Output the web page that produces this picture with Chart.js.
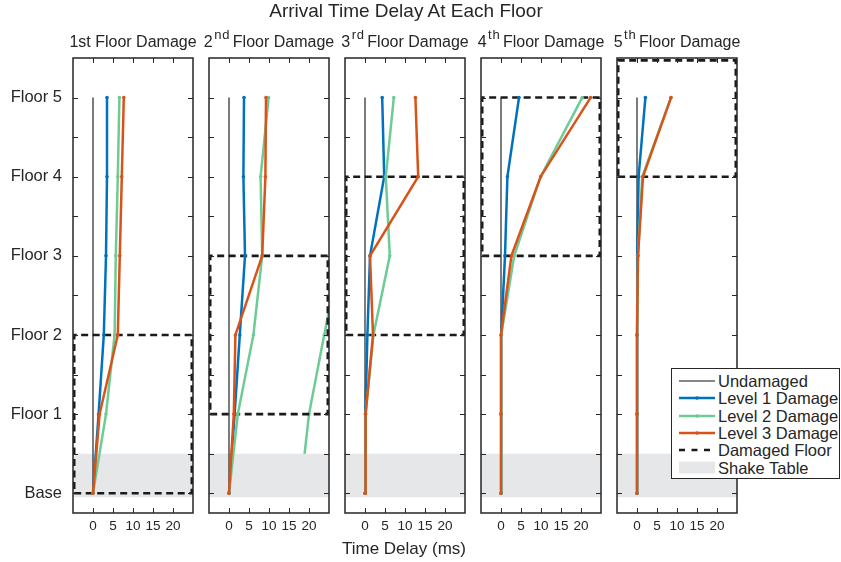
<!DOCTYPE html>
<html>
<head>
<meta charset="utf-8">
<script src="https://cdn.jsdelivr.net/npm/chart.js@4.4.1/dist/chart.umd.min.js"></script>
<style>
  html, body { margin: 0; padding: 0; background: #fff; }
  #fig { position: relative; width: 841px; height: 562px; overflow: hidden;
         font-family: "Liberation Sans", Arial, Helvetica, sans-serif; color: #262626; }
  #fig canvas { position: absolute; top: 0; }
  .txt { position: absolute; white-space: nowrap; line-height: 1; }
  .ptitle { position: absolute; width: 220px; text-align: center; white-space: nowrap;
            line-height: 1; font-size: 16px; top: 34px; }
  .ptitle .sup { font-size: 13px; letter-spacing: 0.8px; position: relative; top: -8.5px;
                 margin-left: 1.5px; margin-right: 2.5px; }
  #legend { position: absolute; left: 671px; top: 368px; width: 169px; height: 111px;
            border: 1px solid #262626; background: #fff; box-sizing: border-box; }
  #legend .row { position: absolute; left: 0; height: 16px; }
  #legend svg { position: absolute; left: 7px; top: 0; }
  #legend span { position: absolute; left: 46px; top: 0; font-size: 16.5px; line-height: 1; white-space: nowrap; }
</style>
</head>
<body>
<div id="fig"></div>
<script>
// ---- floors and ticks ----
const floorValues = [0, 1, 2, 3, 4, 5];
const floorLabels = ['Base', 'Floor 1', 'Floor 2', 'Floor 3', 'Floor 4', 'Floor 5'];
const xTickValues = [0, 5, 10, 15, 20];
const yTickValues = [0, 0.5, 1, 1.5, 2, 2.5, 3, 3.5, 4, 4.5, 5];

// ---- panel titles ----
const panelNumbers = ['1', '2', '3', '4', '5'];
const panelSuffixes = ['st', 'nd', 'rd', 'th', 'th'];
const suffixRaised = [false, true, true, true, true];

// ---- arrival time delay (ms) at Base, Floor 1 ... Floor 5, one row per damaged floor ----
const undamaged = [0, 0, 0, 0, 0, 0];
const level1 = [
  [0, 1.4, 2.7, 3.25, 3.5, 3.5],
  [0, 1.4, 2.7, 4.0, 3.6, 3.75],
  [0, 0.1, 0.6, 1.25, 4.8, 4.3],
  [0, 0, 0.1, 1.0, 1.6, 4.5],
  [0, 0, 0, 0.15, 0.4, 2.1]
];
const level2 = [
  [0, 3.25, 5.4, 5.7, 6.2, 6.6],
  [0, 2.2, 6.1, 8.3, 7.9, 9.9],
  [0, 0.15, 2.1, 6.2, 5.2, 7.2],
  [0, 0, 0.1, 3.3, 9.9, 20.3],
  [0, 0, 0, 0.25, 1.3, 8.5]
];
const level3 = [
  [0, 1.65, 6.2, 6.7, 7.2, 7.7],
  [0, 1.2, 1.6, 8.3, 9.1, 9.25],
  [0, 0.15, 2.0, 1.25, 13.3, 12.6],
  [0, 0, 0, 2.6, 9.9, 22.4],
  [0, 0, 0, 0.25, 1.5, 8.5]
];
// second Level 2 trace on the 2nd-floor test (Base, Floor 1, Floor 2, Floor 3)
const level2SecondTrace2nd = [17.8, 20.0, 23.8, 27.7];

// ---- damaged floor band (lower / upper floor) and shake table extent ----
const damagedLower = [0, 1, 2, 3, 4];
const damagedUpper = [2, 3, 4, 5, 6];
const shakeTableRange = [-0.05, 0.5];

// ---- axis ranges ----
const X_MIN = -5, X_MAX = 25;
const Y_MIN = -0.25, Y_MAX = 5.5;

// ---- layout ----
const PLOT_TOP = 58, PLOT_BOTTOM = 513, PLOT_W = 120, FIG_H = 562;
const panelLeft = [73, 209, 345, 481, 617];
const TICK_LEN = 5;

const COLORS = {
  undamaged: '#111111',
  level1: '#0072BD',
  level2: '#6ECB95',
  level3: '#D95319',
  damaged: '#1a1a1a',
  shake: '#e6e7e8',
  axis: '#262626'
};
const FONT = '"Liberation Sans", Arial, Helvetica, sans-serif';

const fig = document.getElementById('fig');

function addText(text, left, top, size, center) {
  const d = document.createElement('div');
  d.className = 'txt';
  d.textContent = text;
  d.style.fontSize = size + 'px';
  d.style.top = top + 'px';
  if (center) {
    d.style.left = (left - 200) + 'px';
    d.style.width = '400px';
    d.style.textAlign = 'center';
  } else {
    d.style.left = left + 'px';
  }
  fig.appendChild(d);
}

// box and inward tick marks, drawn on top of the data
const framePlugin = {
  id: 'frame',
  afterDraw(chart) {
    const { ctx, chartArea: a } = chart;
    const xs = chart.scales.x, ys = chart.scales.y;
    ctx.save();
    ctx.strokeStyle = COLORS.axis;
    ctx.lineWidth = 1;
    ctx.beginPath();
    xTickValues.forEach(v => {
      const px = Math.round(xs.getPixelForValue(v)) + 0.5;
      ctx.moveTo(px, a.bottom); ctx.lineTo(px, a.bottom - TICK_LEN);
      ctx.moveTo(px, a.top); ctx.lineTo(px, a.top + TICK_LEN);
    });
    yTickValues.forEach(v => {
      const py = Math.round(ys.getPixelForValue(v)) + 0.5;
      ctx.moveTo(a.left, py); ctx.lineTo(a.left + TICK_LEN, py);
      ctx.moveTo(a.right, py); ctx.lineTo(a.right - TICK_LEN, py);
    });
    ctx.stroke();
    ctx.lineWidth = 1.5;
    ctx.strokeRect(a.left, a.top, a.right - a.left, a.bottom - a.top);
    ctx.restore();
  }
};

function toPoints(values) {
  return values.map((v, k) => ({ x: v, y: floorValues[k] }));
}

function seriesDataset(label, values, color, width, order) {
  return {
    label, data: toPoints(values), showLine: true,
    borderColor: color, backgroundColor: color, borderWidth: width,
    pointRadius: 1.8, pointBorderWidth: 0, pointBackgroundColor: color,
    tension: 0, order
  };
}

function buildPanel(i) {
  const isFirst = i === 0;
  const padL = isFirst ? 0 : 6;
  const yAxisW = isFirst ? panelLeft[0] : 0;
  const padR = 6;
  const canvasLeft = isFirst ? 0 : panelLeft[i] - padL;
  const width = padL + yAxisW + PLOT_W + padR;

  const canvas = document.createElement('canvas');
  canvas.width = width; canvas.height = FIG_H;
  canvas.style.width = width + 'px'; canvas.style.height = FIG_H + 'px';
  canvas.style.left = canvasLeft + 'px';
  fig.appendChild(canvas);

  const inset = 0.3;
  const top = Math.min(damagedUpper[i], Y_MAX - 0.03);
  const bottom = damagedLower[i];
  const datasets = [
    seriesDataset('Level 3 Damage', level3[i], COLORS.level3, 2.5, 1),
    seriesDataset('Level 2 Damage', level2[i], COLORS.level2, 2.5, 2),
    seriesDataset('Level 1 Damage', level1[i], COLORS.level1, 2.5, 3),
    {
      label: 'Undamaged', data: toPoints(undamaged), showLine: true,
      borderColor: COLORS.undamaged, borderWidth: 1.1, pointRadius: 0, order: 4
    },
    {
      label: 'Damaged Floor', showLine: true,
      data: [
        { x: X_MIN + inset, y: bottom }, { x: X_MAX - inset, y: bottom },
        { x: X_MAX - inset, y: top }, { x: X_MIN + inset, y: top },
        { x: X_MIN + inset, y: bottom }
      ],
      borderColor: COLORS.damaged, borderWidth: 2.6, borderDash: [7, 4.5],
      pointRadius: 0, order: 5
    },
    {
      label: 'Shake Table', showLine: true,
      data: [{ x: X_MIN, y: shakeTableRange[1] }, { x: X_MAX, y: shakeTableRange[1] }],
      borderWidth: 0, borderColor: 'rgba(0,0,0,0)', backgroundColor: COLORS.shake,
      fill: { value: shakeTableRange[0] }, pointRadius: 0, order: 6
    }
  ];
  if (i === 1) {
    datasets.push({
      label: 'Level 2 Damage (trace 2)',
      data: toPoints(level2SecondTrace2nd),
      showLine: true, borderColor: COLORS.level2, backgroundColor: COLORS.level2,
      borderWidth: 2.5, pointRadius: 1.8, pointBorderWidth: 0, order: 7
    });
  }

  new Chart(canvas, {
    type: 'scatter',
    data: { datasets },
    options: {
      responsive: false,
      animation: false,
      events: [],
      layout: { padding: { left: padL, right: padR, top: PLOT_TOP, bottom: 0 } },
      plugins: { legend: { display: false }, tooltip: { enabled: false }, title: { display: false } },
      scales: {
        x: {
          type: 'linear', min: X_MIN, max: X_MAX, position: 'bottom',
          grid: { display: false, drawTicks: false }, border: { display: false },
          afterBuildTicks: s => { s.ticks = xTickValues.map(v => ({ value: v })); },
          afterFit: s => { s.height = FIG_H - PLOT_BOTTOM; },
          ticks: {
            autoSkip: false, maxRotation: 0, padding: 5, color: COLORS.axis,
            font: { family: FONT, size: 13.5 }
          }
        },
        y: {
          type: 'linear', min: Y_MIN, max: Y_MAX, display: isFirst,
          grid: { display: false, drawTicks: false }, border: { display: false },
          afterBuildTicks: s => { s.ticks = yTickValues.map(v => ({ value: v })); },
          afterFit: s => { s.width = yAxisW; },
          ticks: {
            autoSkip: false, padding: 11, color: COLORS.axis,
            font: { family: FONT, size: 16.5 },
            callback: v => (Number.isInteger(v) ? floorLabels[v] : '')
          }
        }
      }
    },
    plugins: [framePlugin]
  });

  // panel title
  const t = document.createElement('div');
  t.className = 'ptitle';
  t.style.left = (panelLeft[i] + PLOT_W / 2 - 110) + 'px';
  if (suffixRaised[i]) {
    t.innerHTML = panelNumbers[i] + '<span class="sup">' + panelSuffixes[i] + '</span>Floor Damage';
  } else {
    t.textContent = panelNumbers[i] + panelSuffixes[i] + ' Floor Damage';
  }
  fig.appendChild(t);
}

for (let i = 0; i < 5; i++) buildPanel(i);

addText('Arrival Time Delay At Each Floor', 406, 1.2, 19, true);
addText('Time Delay (ms)', 404, 540.4, 17, true);

// legend
const legendItems = [
  { label: 'Undamaged', color: COLORS.undamaged, width: 1.1, marker: false },
  { label: 'Level 1 Damage', color: COLORS.level1, width: 2.5, marker: true },
  { label: 'Level 2 Damage', color: COLORS.level2, width: 2.5, marker: true },
  { label: 'Level 3 Damage', color: COLORS.level3, width: 2.5, marker: true },
  { label: 'Damaged Floor', color: COLORS.damaged, width: 2.6, dash: '6 6.5' },
  { label: 'Shake Table', color: COLORS.shake, patch: true }
];
const legend = document.createElement('div');
legend.id = 'legend';
legendItems.forEach((it, k) => {
  const row = document.createElement('div');
  row.className = 'row';
  const cy = 12 + k * 17.35;
  row.style.top = (cy - 8) + 'px';
  let svg;
  if (it.patch) {
    svg = '<svg width="36" height="16"><rect x="0" y="1.5" width="36" height="12" fill="' + it.color + '"/></svg>';
  } else {
    svg = '<svg width="36" height="16"><line x1="0" y1="8" x2="36" y2="8" stroke="' + it.color +
      '" stroke-width="' + it.width + '"' + (it.dash ? ' stroke-dasharray="' + it.dash + '"' : '') + '/>' +
      (it.marker ? '<circle cx="18" cy="8" r="1.8" fill="' + it.color + '"/>' : '') + '</svg>';
  }
  row.innerHTML = svg + '<span>' + it.label + '</span>';
  legend.appendChild(row);
});
fig.appendChild(legend);
</script>
</body>
</html>
